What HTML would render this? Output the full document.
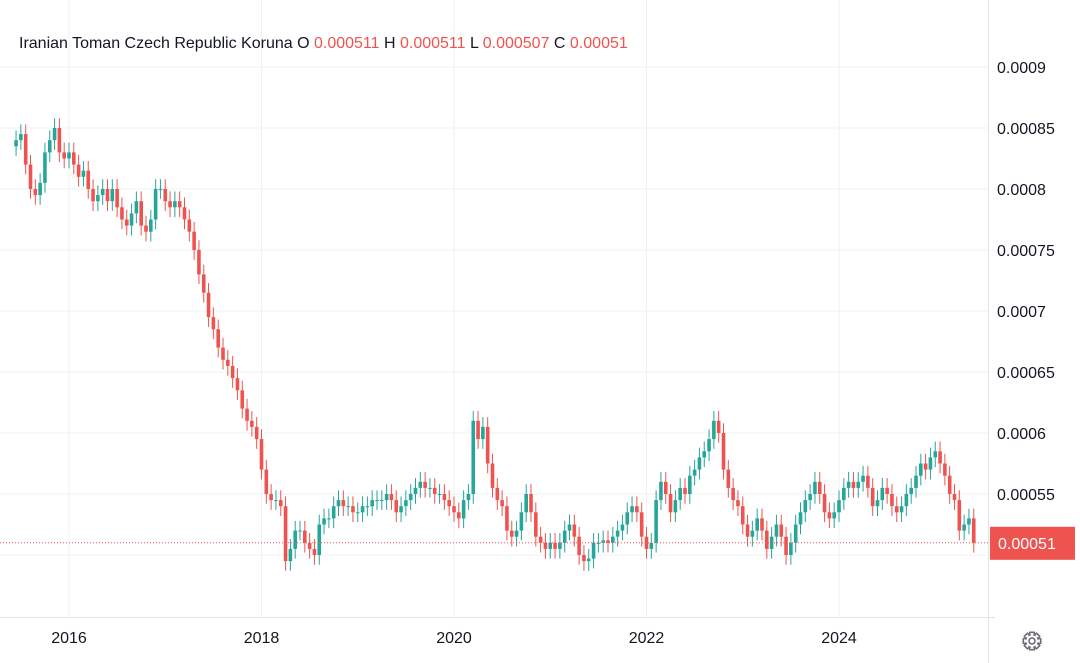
<!DOCTYPE html>
<html><head><meta charset="utf-8">
<style>
body{margin:0;background:#fff;font-family:"Liberation Sans",sans-serif;}
#wrap{position:relative;width:1080px;height:663px;overflow:hidden;}
svg text{font-family:"Liberation Sans",sans-serif;}
</style></head>
<body>
<div id="wrap">
<svg id="chart" width="1080" height="663"></svg>
</div>
<script>
const closes = [8.4,8.45,8.2,8.0,7.95,8.05,8.3,8.4,8.5,8.3,
8.25,8.3,8.2,8.1,8.15,8.0,7.9,7.95,8.0,7.9,
8.0,7.85,7.75,7.7,7.8,7.9,7.7,7.65,7.75,8.0,
8.0,7.9,7.85,7.9,7.85,7.75,7.65,7.5,7.3,7.15,
6.95,6.85,6.7,6.6,6.55,6.45,6.35,6.2,6.1,6.05,
5.95,5.7,5.5,5.45,5.45,5.4,4.95,5.05,5.2,5.2,
5.1,5.05,5.0,5.25,5.3,5.3,5.4,5.45,5.4,5.4,
5.35,5.35,5.4,5.4,5.45,5.45,5.45,5.5,5.45,5.35,
5.4,5.45,5.5,5.55,5.6,5.55,5.55,5.5,5.5,5.45,
5.4,5.35,5.3,5.45,5.5,6.1,5.95,6.05,5.75,5.55,
5.45,5.4,5.2,5.15,5.2,5.35,5.5,5.35,5.15,5.1,
5.05,5.1,5.05,5.1,5.2,5.25,5.15,5.0,4.95,4.97,
5.1,5.1,5.12,5.1,5.15,5.2,5.25,5.35,5.4,5.35,
5.15,5.05,5.1,5.45,5.6,5.5,5.35,5.45,5.55,5.5,
5.65,5.7,5.8,5.85,5.95,6.1,6.0,5.7,5.55,5.45,
5.4,5.25,5.15,5.2,5.3,5.2,5.05,5.15,5.25,5.15,
5.0,5.1,5.25,5.35,5.45,5.5,5.6,5.5,5.35,5.3,
5.35,5.45,5.55,5.6,5.55,5.6,5.65,5.55,5.4,5.45,
5.55,5.5,5.4,5.35,5.4,5.5,5.55,5.65,5.75,5.7,
5.8,5.85,5.75,5.65,5.5,5.45,5.2,5.25,5.3,5.1];
const firstOpen = 8.35;
const startYear = 2015.45, endYear = 2025.4;
const yTicks = [9,8.5,8,7.5,7,6.5,6,5.5];
const yTickLabels = ["0.0009","0.00085","0.0008","0.00075","0.0007","0.00065","0.0006","0.00055"];
const xTicks = [2016,2018,2020,2022,2024];
const lastPrice = 5.1;

const NS="http://www.w3.org/2000/svg";
const svg=document.getElementById('chart');
function xOfYear(t){return 69+(t-2016)*96.25;}
function yOf(v){return 67+(9-v)*122;}
function xOfIndex(i){return xOfYear(startYear+(endYear-startYear)*i/(closes.length-1));}
function el(tag,attrs){const e=document.createElementNS(NS,tag);for(const k in attrs)e.setAttribute(k,attrs[k]);svg.appendChild(e);return e;}

// grid
yTicks.forEach((v,i)=>{
  const g=el('line',{x1:0,x2:988,y1:yOf(v),y2:yOf(v),stroke:'#eef0f4','stroke-width':1});
  
  
  const t=el('text',{x:997,y:yOf(v)+6,'font-size':16,fill:'#131722'});
  t.textContent=yTickLabels[i];
  
  
});
{const g=el('line',{x1:0,x2:988,y1:yOf(5),y2:yOf(5),stroke:'#eef0f4','stroke-width':1});

}
xTicks.forEach(yr=>{
  const x=xOfYear(yr);
  const g=el('line',{x1:x,x2:x,y1:0,y2:617,stroke:'#eef0f4','stroke-width':1});
  
  
  const t=el('text',{x:x,y:643,'font-size':16,fill:'#131722','text-anchor':'middle'});
  t.textContent=yr;
  
  
});
// axes borders
{const a=el('line',{x1:988.5,x2:988.5,y1:0,y2:663,stroke:'#e0e3eb'});


const b=el('line',{x1:0,x2:995,y1:617.5,y2:617.5,stroke:'#e0e3eb'});

}

// candles
closes.forEach((c,i)=>{
  const o=i===0?firstOpen:closes[i-1];
  const up=c>=o;
  const col=up?'#26a69a':'#ef5350';
  const x=xOfIndex(i);
  const hi=Math.max(o,c)+0.08, lo=Math.min(o,c)-0.08;
  const w=el('line',{x1:x,x2:x,y1:yOf(hi),y2:yOf(lo),stroke:col,'stroke-width':1});
  
  
  const top=yOf(Math.max(o,c)), bot=yOf(Math.min(o,c));
  const r=el('rect',{x:x-1.8,y:top,width:3.6,height:Math.max(1,bot-top),fill:col});
  
  
});

// last price line and label
{const l=el('line',{x1:0,x2:988,y1:yOf(lastPrice),y2:yOf(lastPrice),stroke:'#ef5350','stroke-width':1,'stroke-dasharray':'1 2'});


const y=yOf(lastPrice);
const b=el('rect',{x:990,y:y-16,width:85,height:33,fill:'#ef5350'});


const t=el('text',{x:998,y:y+6,'font-size':16,fill:'#fff'});
t.textContent='0.00051';

}

// legend
{const t=el('text',{x:19,y:48,'font-size':16,fill:'#131722'});


const parts=[["Iranian Toman Czech Republic Koruna O ",'#131722'],["0.000511",'#ef5350'],[" H ",'#131722'],["0.000511",'#ef5350'],[" L ",'#131722'],["0.000507",'#ef5350'],[" C ",'#131722'],["0.00051",'#ef5350']];
parts.forEach(p=>{const s=document.createElementNS(NS,'tspan');s.setAttribute('fill',p[1]);s.textContent=p[0];t.appendChild(s);});}

// gear icon
{const g=el('g',{transform:'translate(1032,641)',fill:'none',stroke:'#6a6d78','stroke-width':1.6});


const c1=document.createElementNS(NS,'circle');c1.setAttribute('r',3);g.appendChild(c1);
const p=document.createElementNS(NS,'path');
let d='';for(let k=0;k<8;k++){const a=k*Math.PI/4;const a1=a-0.25,a2=a+0.25;
d+=(k?'L':'M')+(6.5*Math.cos(a-0.45)).toFixed(2)+' '+(6.5*Math.sin(a-0.45)).toFixed(2)+'L'+(9*Math.cos(a1)).toFixed(2)+' '+(9*Math.sin(a1)).toFixed(2)+'L'+(9*Math.cos(a2)).toFixed(2)+' '+(9*Math.sin(a2)).toFixed(2)+'L'+(6.5*Math.cos(a+0.45)).toFixed(2)+' '+(6.5*Math.sin(a+0.45)).toFixed(2);}
p.setAttribute('d',d+'Z');g.appendChild(p);}
</script>
</body></html>
